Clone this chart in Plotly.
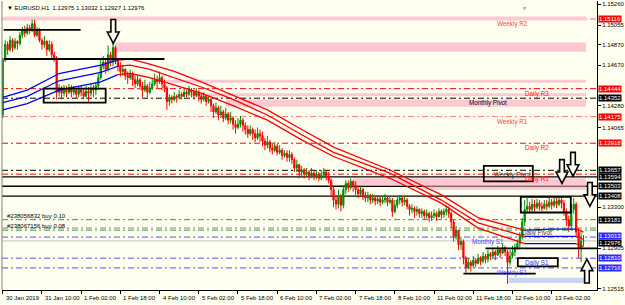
import plotly.graph_objects as go

# ---------------- candle data (EURUSD H1, one value per bar) ----------------
opens = [1.1419,1.1472,1.1487,1.1482,1.1491,1.1484,1.1490,1.1488,1.1496,1.1501,1.1498,1.1503,1.1501,1.1507,1.1496,1.1501,1.1491,1.1487,1.1490,1.1482,
1.1487,1.1477,1.1474,1.1441,1.1445,1.1440,1.1443,1.1441,1.1445,1.1441,1.1443,1.1439,1.1443,1.1441,1.1437,1.1442,1.1440,1.1445,1.1443,1.1447,
1.1455,1.1466,1.1470,1.1463,1.1477,1.1470,1.1484,1.1472,1.1466,1.1461,1.1463,1.1457,1.1455,1.1459,1.1453,1.1449,1.1453,1.1447,1.1443,1.1447,
1.1441,1.1445,1.1449,1.1453,1.1451,1.1455,1.1449,1.1445,1.1432,1.1436,1.1434,1.1437,1.1436,1.1439,1.1437,1.1441,1.1439,1.1443,1.1441,1.1438,
1.1441,1.1437,1.1434,1.1437,1.1432,1.1434,1.1428,1.1422,1.1426,1.1419,1.1422,1.1416,1.1420,1.1414,1.1416,1.1410,1.1407,1.1410,1.1414,1.1409,
1.1405,1.1401,1.1405,1.1401,1.1397,1.1401,1.1399,1.1394,1.1390,1.1393,1.1387,1.1385,1.1389,1.1383,1.1385,1.1380,1.1382,1.1378,1.1381,1.1376,
1.1368,1.1371,1.1364,1.1366,1.1362,1.1364,1.1360,1.1363,1.1360,1.1362,1.1358,1.1361,1.1364,1.1360,1.1356,1.1347,1.1337,1.1333,1.1341,1.1332,
1.1347,1.1353,1.1349,1.1355,1.1351,1.1347,1.1343,1.1347,1.1341,1.1339,1.1341,1.1337,1.1339,1.1336,1.1338,1.1335,1.1337,1.1339,1.1335,1.1337,
1.1326,1.1332,1.1337,1.1339,1.1335,1.1337,1.1331,1.1328,1.1329,1.1326,1.1328,1.1324,1.1326,1.1322,1.1324,1.1320,1.1322,1.1324,1.1321,1.1326,
1.1323,1.1326,1.1328,1.1324,1.1316,1.1302,1.1308,1.1294,1.1297,1.1281,1.1272,1.1277,1.1274,1.1279,1.1276,1.1281,1.1278,1.1283,1.1280,1.1285,
1.1283,1.1287,1.1284,1.1289,1.1286,1.1291,1.1287,1.1277,1.1283,1.1287,1.1291,1.1295,1.1302,1.1316,1.1328,1.1331,1.1328,1.1333,1.1330,1.1334,
1.1331,1.1329,1.1333,1.1331,1.1335,1.1332,1.1336,1.1333,1.1337,1.1334,1.1326,1.1318,1.1312,1.1328,1.1333,1.1306,1.1291,1.12975]
highs = [1.1474,1.1491,1.1490,1.1495,1.1493,1.1493,1.1491,1.1499,1.1504,1.1505,1.1507,1.1506,1.1511,1.1511,1.1504,1.1503,1.1493,1.1495,1.1491,1.1491,
1.1490,1.1480,1.1476,1.1449,1.1447,1.1448,1.1447,1.1449,1.1448,1.1447,1.1445,1.1447,1.1447,1.1445,1.1447,1.1446,1.1449,1.1448,1.1451,1.1459,
1.1472,1.1476,1.1474,1.1486,1.1480,1.1489,1.1486,1.1474,1.1470,1.1467,1.1464,1.1461,1.1463,1.1461,1.1457,1.1457,1.1455,1.1451,1.1453,1.1449,
1.1451,1.1455,1.1459,1.1457,1.1461,1.1457,1.1453,1.1447,1.1439,1.1438,1.1441,1.1439,1.1443,1.1441,1.1445,1.1443,1.1447,1.1445,1.1443,1.1445,
1.1443,1.1440,1.1441,1.1438,1.1437,1.1436,1.1430,1.1431,1.1428,1.1428,1.1424,1.1426,1.1422,1.1422,1.1418,1.1414,1.1416,1.1418,1.1416,1.1412,
1.1409,1.1409,1.1407,1.1405,1.1407,1.1405,1.1403,1.1397,1.1399,1.1395,1.1391,1.1393,1.1391,1.1390,1.1387,1.1385,1.1385,1.1385,1.1383,1.1378,
1.1376,1.1372,1.1370,1.1368,1.1368,1.1366,1.1368,1.1366,1.1366,1.1364,1.1366,1.1368,1.1366,1.1364,1.1358,1.1351,1.1341,1.1347,1.1343,1.1351,
1.1356,1.1356,1.1358,1.1356,1.1355,1.1351,1.1351,1.1349,1.1345,1.1345,1.1343,1.1343,1.1341,1.1342,1.1340,1.1341,1.1343,1.1341,1.1341,1.1339,
1.1337,1.1341,1.1342,1.1341,1.1341,1.1339,1.1333,1.1333,1.1331,1.1331,1.1329,1.1329,1.1328,1.1328,1.1326,1.1326,1.1328,1.1326,1.1329,1.1328,
1.1329,1.1332,1.1331,1.1326,1.1318,1.1312,1.1308,1.1301,1.1299,1.1283,1.1281,1.1279,1.1283,1.1281,1.1285,1.1283,1.1287,1.1285,1.1289,1.1287,
1.1291,1.1289,1.1293,1.1291,1.1295,1.1293,1.1289,1.1289,1.1293,1.1295,1.1299,1.1306,1.1320,1.1337,1.1339,1.1335,1.1338,1.1337,1.1338,1.1337,
1.1335,1.1337,1.1337,1.1339,1.1338,1.1340,1.1339,1.1341,1.1339,1.1337,1.1329,1.1322,1.1334,1.1339,1.1335,1.1310,1.1306,1.13032]
lows = [1.1416,1.1470,1.1477,1.1480,1.1480,1.1482,1.1482,1.1486,1.1493,1.1494,1.1496,1.1497,1.1499,1.1494,1.1494,1.1489,1.1482,1.1484,1.1476,1.1480,
1.1474,1.1470,1.1434,1.1437,1.1434,1.1437,1.1436,1.1439,1.1436,1.1438,1.1435,1.1436,1.1437,1.1434,1.1436,1.1432,1.1437,1.1436,1.1438,1.1443,
1.1453,1.1463,1.1459,1.1461,1.1466,1.1466,1.1468,1.1461,1.1456,1.1457,1.1453,1.1449,1.1453,1.1447,1.1445,1.1447,1.1443,1.1436,1.1441,1.1436,
1.1439,1.1443,1.1447,1.1445,1.1449,1.1443,1.1441,1.1424,1.1428,1.1430,1.1432,1.1431,1.1434,1.1434,1.1436,1.1436,1.1437,1.1436,1.1434,1.1436,
1.1432,1.1430,1.1432,1.1428,1.1430,1.1422,1.1416,1.1420,1.1414,1.1416,1.1412,1.1414,1.1410,1.1411,1.1405,1.1401,1.1405,1.1407,1.1403,1.1400,
1.1397,1.1399,1.1395,1.1393,1.1395,1.1393,1.1389,1.1385,1.1387,1.1383,1.1381,1.1383,1.1380,1.1381,1.1376,1.1378,1.1374,1.1374,1.1372,1.1364,
1.1364,1.1358,1.1360,1.1358,1.1359,1.1356,1.1358,1.1356,1.1357,1.1355,1.1356,1.1358,1.1356,1.1353,1.1341,1.1330,1.1328,1.1329,1.1326,1.1329,
1.1343,1.1345,1.1347,1.1345,1.1342,1.1339,1.1341,1.1337,1.1335,1.1335,1.1333,1.1334,1.1332,1.1333,1.1331,1.1333,1.1334,1.1331,1.1333,1.1321,
1.1324,1.1329,1.1333,1.1331,1.1332,1.1328,1.1322,1.1324,1.1320,1.1322,1.1320,1.1320,1.1318,1.1319,1.1316,1.1317,1.1319,1.1317,1.1320,1.1319,
1.1320,1.1322,1.1320,1.1310,1.1297,1.1299,1.1289,1.1289,1.1275,1.1267,1.1270,1.1268,1.1272,1.1272,1.1275,1.1274,1.1276,1.1276,1.1277,1.1279,
1.1281,1.1279,1.1283,1.1281,1.1285,1.1283,1.1256,1.1274,1.1281,1.1283,1.1289,1.1291,1.1299,1.1312,1.1324,1.1324,1.1326,1.1326,1.1328,1.1327,
1.1326,1.1328,1.1327,1.1329,1.1328,1.1330,1.1329,1.1331,1.1329,1.1322,1.1312,1.1306,1.1308,1.1324,1.1302,1.1281,1.1277,1.12927]
closes = [1.1472,1.1487,1.1482,1.1491,1.1484,1.1490,1.1488,1.1496,1.1501,1.1498,1.1503,1.1501,1.1507,1.1496,1.1501,1.1491,1.1487,1.1490,1.1482,1.1487,
1.1477,1.1474,1.1441,1.1445,1.1440,1.1443,1.1441,1.1445,1.1441,1.1443,1.1439,1.1443,1.1441,1.1437,1.1442,1.1440,1.1445,1.1443,1.1447,1.1455,
1.1466,1.1470,1.1463,1.1477,1.1470,1.1484,1.1472,1.1466,1.1461,1.1463,1.1457,1.1455,1.1459,1.1453,1.1449,1.1453,1.1447,1.1443,1.1447,1.1441,
1.1445,1.1449,1.1453,1.1451,1.1455,1.1449,1.1445,1.1432,1.1436,1.1434,1.1437,1.1436,1.1439,1.1437,1.1441,1.1439,1.1443,1.1441,1.1438,1.1441,
1.1437,1.1434,1.1437,1.1432,1.1434,1.1428,1.1422,1.1426,1.1419,1.1422,1.1416,1.1420,1.1414,1.1416,1.1410,1.1407,1.1410,1.1414,1.1409,1.1405,
1.1401,1.1405,1.1401,1.1397,1.1401,1.1399,1.1394,1.1390,1.1393,1.1387,1.1385,1.1389,1.1383,1.1385,1.1380,1.1382,1.1378,1.1381,1.1376,1.1368,
1.1371,1.1364,1.1366,1.1362,1.1364,1.1360,1.1363,1.1360,1.1362,1.1358,1.1361,1.1364,1.1360,1.1356,1.1347,1.1337,1.1333,1.1341,1.1332,1.1347,
1.1353,1.1349,1.1355,1.1351,1.1347,1.1343,1.1347,1.1341,1.1339,1.1341,1.1337,1.1339,1.1336,1.1338,1.1335,1.1337,1.1339,1.1335,1.1337,1.1326,
1.1332,1.1337,1.1339,1.1335,1.1337,1.1331,1.1328,1.1329,1.1326,1.1328,1.1324,1.1326,1.1322,1.1324,1.1320,1.1322,1.1324,1.1321,1.1326,1.1323,
1.1326,1.1328,1.1324,1.1316,1.1302,1.1308,1.1294,1.1297,1.1281,1.1272,1.1277,1.1274,1.1279,1.1276,1.1281,1.1278,1.1283,1.1280,1.1285,1.1283,
1.1287,1.1284,1.1289,1.1286,1.1291,1.1287,1.1277,1.1283,1.1287,1.1291,1.1295,1.1302,1.1316,1.1328,1.1331,1.1328,1.1333,1.1330,1.1334,1.1331,
1.1329,1.1333,1.1331,1.1335,1.1332,1.1336,1.1333,1.1337,1.1334,1.1326,1.1318,1.1312,1.1328,1.1333,1.1306,1.1291,1.12975,1.12976]

# ---------------- moving-average envelope (sampled bars) ----------------
blue1_bars = [0, 10, 23, 40, 47]
blue1_up = [1.1436, 1.1443, 1.1459, 1.1467, 1.1472]
blue1_mid = [1.1431, 1.1437, 1.1452, 1.1460, 1.1466]
blue1_lo = [1.1424, 1.1430, 1.1443, 1.1451, 1.1458]
red1_bars = [47, 52, 60, 70, 81, 94, 108, 122, 135, 158, 179, 194, 213]
red1_up = [1.1472, 1.1473, 1.1468, 1.1461, 1.1451, 1.1438, 1.1424, 1.1405, 1.1388, 1.1366, 1.1342, 1.1320, 1.1308]
red1_mid = [1.1466, 1.1467, 1.1463, 1.1455, 1.1446, 1.1434, 1.1419, 1.1400, 1.1383, 1.1363, 1.1337, 1.1315, 1.1302]
red1_lo = [1.1458, 1.1459, 1.1455, 1.1448, 1.1440, 1.1428, 1.1414, 1.1395, 1.1379, 1.1358, 1.1334, 1.1310, 1.1295]
blue2_bars = [213, 224, 234]
blue2_up = [1.1308, 1.1309, 1.1309]
blue2_mid = [1.1302, 1.1302, 1.1302]
blue2_lo = [1.1295, 1.1295, 1.1295]
red2_bars = [234, 237]
red2_up = [1.1309, 1.1306]
red2_mid = [1.1302, 1.1299]
red2_lo = [1.1295, 1.1292]

# ---------------- pivot levels ----------------
level_names = ["Weekly R2", "Daily R3", "Monthly Pivot", "Weekly R1", "Daily R2", "Weekly Pivot",
               "Daily R1", "Daily Pivot", "Monthly S1", "Daily S1", "Weekly S1"]
level_prices = [1.15116, 1.14444, 1.14352, 1.14175, 1.13918, 1.13657, 1.13620, 1.13100, 1.13013, 1.12810, 1.12716]
level_line_colors = ["#FF6A6A", "#FF0000", "#000000", "#FF7A7A", "#FF0000", "#000000",
                     "#FF0000", "#808080", "#5050FF", "#5050FF", "#5050FF"]
level_text_colors = ["#FF4040", "#FF2020", "#000000", "#FF4040", "#FF2020", "#202020",
                     "#FF2020", "#404040", "#4040FF", "#3030FF", "#4040FF"]
level_label_bars = [208, 218, 198, 208, 218, 208, 218, 218, 198, 218, 208]

order_prices = [1.13181, 1.13080]
order_texts = ["#238056832 buy 0.10", "#238067156 buy 0.08"]

solid_levels = [1.13594, 1.13503, 1.13408]
bid_price = 1.12976

# partial horizontal black lines: (price, start bar, end bar)
hlines = [(1.1501, 0.4, 31.8), (1.1473, 0.4, 66.0), (1.12905, 197.0, 243.0), (1.1266, 188.0, 217.5)]
# outlined boxes: (bar0, bar1, top, bottom)
boxes = [(16.7, 42.0, 1.14445, 1.1431), (196.3, 216.3, 1.1370, 1.1355),
         (211.4, 231.8, 1.1340, 1.1325), (210.2, 226.5, 1.1281, 1.1273)]
# shaded zones: (bar0, bar1, top, bottom)
pink_zones = [(0.4, 238, 1.1514, 1.1510), (46, 238, 1.1489, 1.1480), (66.5, 238, 1.1453, 1.1450),
              (76.7, 238, 1.1440, 1.1437), (91, 238, 1.1434, 1.1427), (143, 238, 1.1358, 1.1351),
              (171, 238, 1.1350, 1.1347)]
blue_zones = [(206.5, 238, 1.1262, 1.1257)]
# arrows: (bar, tip price, direction)
arrows = [(45.1, 1.1488, "down"), (228.2, 1.1353, "down"), (232.7, 1.1360, "down"),
          (239.6, 1.1331, "down"), (238.4, 1.1280, "up")]

# ---------------- axes ----------------
y_ticks = [1.15260, 1.15055, 1.14870, 1.14670, 1.14280, 1.14065, 1.13300, 1.12905, 1.12515]
price_labels = [(1.15116, "#FF0000", 0), (1.14444, "#FF0000", 0), (1.14352, "#000000", 0), (1.14175, "#FF0000", 0),
                (1.13918, "#FF0000", 0), (1.13657, "#000000", 0), (1.13594, "#000000", 0), (1.13503, "#000000", 0),
                (1.13408, "#000000", 0), (1.13181, "#000000", 0), (1.12976, "#000000", -2), (1.13013, "#2B2BFF", 1),
                (1.12810, "#2B2BFF", 0), (1.12716, "#2B2BFF", 0)]
time_bars = [0, 16, 32, 48, 64, 80, 96, 112, 128, 144, 160, 176, 192, 208, 224]
time_labels = ["30 Jan 2019", "31 Jan 10:00", "1 Feb 02:00", "1 Feb 18:00", "4 Feb 10:00", "5 Feb 02:00",
               "5 Feb 18:00", "6 Feb 10:00", "7 Feb 02:00", "7 Feb 18:00", "8 Feb 10:00", "11 Feb 02:00",
               "11 Feb 18:00", "12 Feb 10:00", "13 Feb 02:00"]

FONT = "Liberation Sans, Arial, sans-serif"
BG = "#FFFFF0"

fig = go.Figure()
fig.add_trace(go.Candlestick(
    x=list(range(len(closes))), open=opens, high=highs, low=lows, close=closes,
    increasing=dict(line=dict(color="#008C00", width=1), fillcolor="#008C00"),
    decreasing=dict(line=dict(color="#FF0000", width=1), fillcolor="#FF0000"),
    whiskerwidth=0, showlegend=False, hoverinfo="skip"))

for bars, ups, mids, los, col in [(blue1_bars, blue1_up, blue1_mid, blue1_lo, "#0000FF"),
                                  (red1_bars, red1_up, red1_mid, red1_lo, "#FF0000"),
                                  (blue2_bars, blue2_up, blue2_mid, blue2_lo, "#0000FF"),
                                  (red2_bars, red2_up, red2_mid, red2_lo, "#FF0000")]:
    for ser in (ups, mids, los):
        fig.add_trace(go.Scatter(x=bars, y=ser, mode="lines", line=dict(color=col, width=1.3),
                                 showlegend=False, hoverinfo="skip"))

shapes = []
DD = "6px,3px,2px,3px"
for b0, b1, t, bt in pink_zones:
    shapes.append(dict(type="rect", xref="x", yref="y", x0=b0, x1=b1, y0=bt, y1=t,
                       fillcolor="#FFC8D2", line=dict(width=0), layer="below"))
for b0, b1, t, bt in blue_zones:
    shapes.append(dict(type="rect", xref="x", yref="y", x0=b0, x1=b1, y0=bt, y1=t,
                       fillcolor="#C8D4F2", line=dict(width=0), layer="below"))
for p, col in zip(level_prices, level_line_colors):
    shapes.append(dict(type="line", xref="paper", yref="y", x0=0, x1=1, y0=p, y1=p,
                       line=dict(color=col, width=1, dash=DD), layer="below"))
for p in order_prices:
    shapes.append(dict(type="line", xref="paper", yref="y", x0=0, x1=1, y0=p, y1=p,
                       line=dict(color="#30A030", width=1, dash=DD), layer="below"))
for p in solid_levels:
    shapes.append(dict(type="line", xref="paper", yref="y", x0=0, x1=1, y0=p, y1=p,
                       line=dict(color="#000000", width=1.3), layer="below"))
shapes.append(dict(type="line", xref="paper", yref="y", x0=0, x1=1, y0=bid_price, y1=bid_price,
                   line=dict(color="#C0C0C0", width=1), layer="below"))
for p, b0, b1 in hlines:
    shapes.append(dict(type="line", xref="x", yref="y", x0=b0, x1=b1, y0=p, y1=p,
                       line=dict(color="#000000", width=1.8), layer="above"))
for b0, b1, t, bt in boxes:
    shapes.append(dict(type="rect", xref="x", yref="y", x0=b0, x1=b1, y0=bt, y1=t,
                       line=dict(color="#000000", width=1.8), fillcolor="rgba(0,0,0,0)", layer="above"))

ALEN, AHEAD, AHW, ASW = 0.0023, 0.0011, 2.4, 0.95
for bx, tip, d in arrows:
    s = 1 if d == "down" else -1
    base = tip + s * ALEN
    neck = tip + s * AHEAD
    pts = [(bx - ASW, base), (bx + ASW, base), (bx + ASW, neck), (bx + AHW, neck),
           (bx, tip), (bx - AHW, neck), (bx - ASW, neck)]
    path = "M " + " L ".join(f"{px},{py}" for px, py in pts) + " Z"
    shapes.append(dict(type="path", xref="x", yref="y", path=path,
                       fillcolor=BG, line=dict(color="#000000", width=1.6), layer="above"))

# left frame line
shapes.append(dict(type="line", xref="paper", yref="paper", x0=0, x1=0, y0=0, y1=1,
                   line=dict(color="#808080", width=1)))

annotations = []
for name, p, tc, lb in zip(level_names, level_prices, level_text_colors, level_label_bars):
    annotations.append(dict(x=lb, y=p, xref="x", yref="y", text=name, showarrow=False,
                            yshift=-5, font=dict(family=FONT, size=6.3, color=tc)))
for p, t in zip(order_prices, order_texts):
    annotations.append(dict(x=1, y=p, xref="x", yref="y", text=t, showarrow=False, xanchor="left",
                            yshift=4, font=dict(family=FONT, size=6, color="#000000")))
for p, col, ys in price_labels:
    annotations.append(dict(x=1, y=p, xref="paper", yref="y", text=f"{p:.5f}", showarrow=False,
                            xanchor="left", xshift=1, yshift=ys, bgcolor=col, borderpad=0,
                            font=dict(family=FONT, size=6, color="#FFFFFF")))
for b, t in zip(time_bars, time_labels):
    annotations.append(dict(x=b, y=0, xref="x", yref="paper", text=t, showarrow=False,
                            xanchor="left", yanchor="top", xshift=1, yshift=-3,
                            font=dict(family=FONT, size=6, color="#000000")))
annotations.append(dict(x=0, y=1, xref="paper", yref="paper", text="▼ EURUSD,H1  1.12975 1.13032 1.12927 1.12976",
                        showarrow=False, xanchor="left", yanchor="top", xshift=3, yshift=-2,
                        font=dict(family=FONT, size=6, color="#000000")))
annotations.append(dict(x=213, y=1, xref="x", yref="paper", text="▼", showarrow=False,
                        yanchor="top", yshift=-2, font=dict(family=FONT, size=5, color="#909090")))

fig.update_layout(
    width=625, height=305, margin=dict(l=2, r=28, t=1, b=15, pad=0),
    paper_bgcolor=BG, plot_bgcolor=BG, showlegend=False,
    shapes=shapes, annotations=annotations,
    xaxis=dict(range=[-0.3, 242.5], showgrid=False, zeroline=False, rangeslider=dict(visible=False),
               tickvals=time_bars, ticks="outside", ticklen=3, tickcolor="#000000",
               showticklabels=False, showline=True, linecolor="#000000", linewidth=1),
    yaxis=dict(range=[1.12503, 1.15289], side="right", showgrid=False, zeroline=False,
               tickvals=y_ticks, ticktext=[f"{v:.5f}" for v in y_ticks], ticks="outside", ticklen=3,
               tickcolor="#000000", tickfont=dict(family=FONT, size=6, color="#000000"),
               showline=True, linecolor="#000000", linewidth=1),
)

fig.write_html("out.html")
